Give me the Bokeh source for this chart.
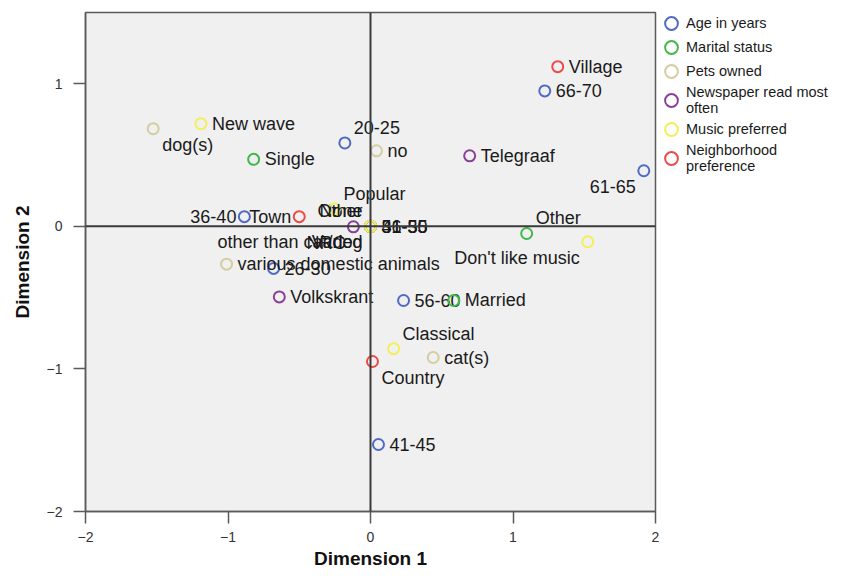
from bokeh.plotting import figure
from bokeh.layouts import row
from bokeh.models import Span, Legend, LegendItem, ColumnDataSource, FixedTicker, Range1d
from bokeh.embed import file_html
from bokeh.resources import INLINE
from bokeh.core.properties import value

# ---------------- data ----------------
age_labels = ["20-25", "26-30", "31-35", "36-40", "41-45", "46-50", "51-55", "56-60", "61-65", "66-70"]
age_x = [-0.18, -0.68, 0.0, -0.885, 0.056, 0.0, 0.0, 0.232, 1.918, 1.223]
age_y = [0.585, -0.295, 0.0, 0.068, -1.53, 0.0, 0.0, -0.52, 0.39, 0.95]

marital_labels = ["Single", "Married", "Other"]
marital_x = [-0.82, 0.584, 1.096]
marital_y = [0.47, -0.52, -0.05]

pets_labels = ["no", "cat(s)", "dog(s)", "other than cat/dog", "various domestic animals"]
pets_x = [0.042, 0.44, -1.525, 0.0, -1.01]
pets_y = [0.53, -0.92, 0.685, 0.0, -0.265]

news_labels = ["Volkskrant", "Telegraaf", "NRC", "None"]
news_x = [-0.64, 0.696, -0.12, 0.0]
news_y = [-0.495, 0.495, -0.003, 0.0]

music_labels = ["Classical", "New wave", "Popular", "Varied", "Don't like music", "Other"]
music_x = [0.162, -1.19, -0.253, 0.0, 1.525, 0.0]
music_y = [-0.858, 0.72, 0.124, 0.0, -0.108, 0.0]

hood_labels = ["Town", "Village", "Country"]
hood_x = [-0.50, 1.314, 0.014]
hood_y = [0.068, 1.12, -0.948]

series_names = ["Age in years", "Marital status", "Pets owned",
                "Newspaper read most\noften", "Music preferred", "Neighborhood\npreference"]

# ---------------- styles ----------------
colors = ["#4f6bc4", "#43b84a", "#d4cda0", "#8a3f98", "#f2f05a", "#ee4a4a"]
# label placement codes: R right, L left, AR above-right, AL above-left, BR below-right, BL below-left
age_pos = ["AR", "R", "R", "L", "R", "R", "R", "R", "BL", "R"]
marital_pos = ["R", "R", "AR"]
pets_pos = ["R", "R", "BR", "BL", "R"]
news_pos = ["R", "R", "BL", "AL"]
music_pos = ["AR", "R", "AR", "BL", "BL", "AL"]
hood_pos = ["L", "R", "BR"]

OFF = {"R": (11, 0, "left"), "L": (-8, 0, "right"),
       "AR": (9, -15, "left"), "AL": (-8, -15, "right"),
       "BR": (9, 16, "left"), "BL": (-8, 16, "right")}

FONT = "Liberation Sans"

p = figure(width=663, height=572, x_range=Range1d(-2, 2), y_range=Range1d(-2, 1.5),
           output_backend="svg", toolbar_location=None,
           min_border_left=85, min_border_right=8, min_border_top=12, min_border_bottom=61)

p.background_fill_color = "#f0f0f0"
p.border_fill_color = "white"
p.outline_line_color = "#5a5a5a"
p.outline_line_width = 1.5
p.grid.visible = False

p.add_layout(Span(location=0, dimension="width", line_color="#3a3a3a", line_width=2))
p.add_layout(Span(location=0, dimension="height", line_color="#3a3a3a", line_width=2))

for ax in (p.xaxis, p.yaxis):
    ax.axis_line_color = "#5a5a5a"
    ax.axis_line_width = 1.5
    ax.major_tick_line_color = "#5a5a5a"
    ax.major_tick_line_width = 1.5
    ax.major_tick_out = 12
    ax.major_tick_in = 0
    ax.minor_tick_line_color = None
    ax.major_label_text_font = FONT
    ax.major_label_text_font_size = "14px"
    ax.major_label_text_color = "#333333"
    ax.axis_label_text_font = FONT
    ax.axis_label_text_font_style = "bold"
    ax.axis_label_text_font_size = "19px"
    ax.axis_label_text_color = "#111111"

p.xaxis.major_label_standoff = 8
p.yaxis.major_label_standoff = 11
p.xaxis.ticker = FixedTicker(ticks=[-2, -1, 0, 1, 2])
p.yaxis.ticker = FixedTicker(ticks=[-2, -1, 0, 1])
p.xaxis.axis_label = "Dimension 1"
p.yaxis.axis_label = "Dimension 2"
p.xaxis.axis_label_standoff = 3
p.yaxis.axis_label_standoff = 11

groups = [
    (age_labels, age_x, age_y, age_pos),
    (marital_labels, marital_x, marital_y, marital_pos),
    (pets_labels, pets_x, pets_y, pets_pos),
    (news_labels, news_x, news_y, news_pos),
    (music_labels, music_x, music_y, music_pos),
    (hood_labels, hood_x, hood_y, hood_pos),
]

# legend panel (separate figure, no axes; its ranges keep the data out of view)
lp = figure(width=177, height=572, output_backend="svg", toolbar_location=None,
            x_axis_type=None, y_axis_type=None,
            x_range=Range1d(10, 11), y_range=Range1d(10, 11),
            min_border_left=0, min_border_right=0, min_border_top=12, min_border_bottom=0)
lp.outline_line_color = None
lp.grid.visible = False
lp.background_fill_color = "white"
lp.border_fill_color = "white"

items = []
for (labs, xs, ys, pos), col, name in zip(groups, colors, series_names):
    src = ColumnDataSource(dict(x=xs, y=ys, label=labs,
                                xo=[OFF[k][0] for k in pos],
                                yo=[OFF[k][1] for k in pos],
                                al=[OFF[k][2] for k in pos]))
    p.scatter("x", "y", source=src, marker="circle", size=11,
              fill_color=None, line_color=col, line_width=2)
    p.text("x", "y", text="label", source=src, x_offset="xo", y_offset="yo",
           text_align="al", text_baseline="middle", text_font=value(FONT),
           text_font_size="18px", text_color="#1a1a1a")
    lr = lp.ellipse("x", "y", source=src, width=13, height=13,
                    width_units="screen", height_units="screen",
                    fill_color=None, line_color=col, line_width=2)
    items.append(LegendItem(label=name, renderers=[lr]))

legend = Legend(items=items, location="top_left", orientation="vertical",
                border_line_color=None, background_fill_alpha=0,
                label_text_font=FONT, label_text_font_size="14.5px",
                label_text_line_height=1.6,
                label_text_color="#1a1a1a", label_height=20, glyph_height=22,
                glyph_width=16, label_standoff=7, spacing=2, padding=17, margin=0)
lp.add_layout(legend, "center")

layout = row(p, lp)
open("out.html", "w").write(file_html(layout, INLINE))
